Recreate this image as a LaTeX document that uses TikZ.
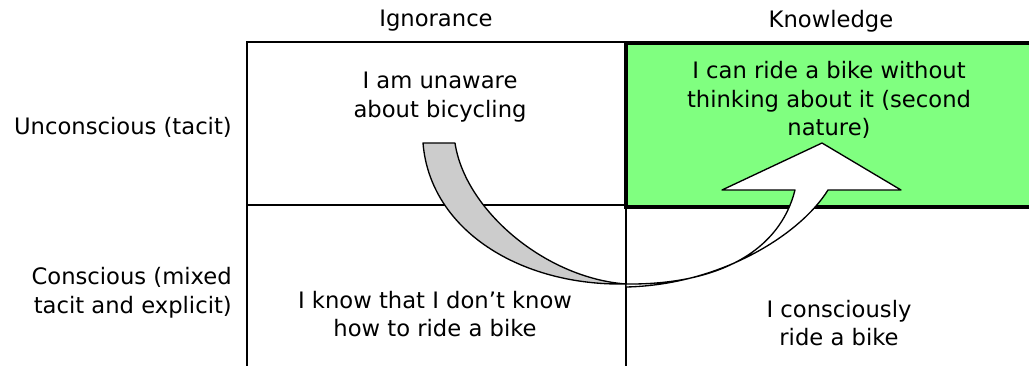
\documentclass[tikz,border=0pt]{standalone}
\usepackage{fontspec}
\setmainfont{DejaVu Sans}
\usetikzlibrary{positioning}
\definecolor{mastered}{RGB}{128,255,128}
\definecolor{backpart}{RGB}{204,204,204}

\begin{document}
\begin{tikzpicture}[x=0.75pt, y=-0.75pt, font=\fontsize{17}{21.5}\selectfont,
        grid/.style={line width=1.8pt},
        cell/.style={align=center, inner sep=0pt},
        rowlabel/.style={align=right, inner sep=0pt, anchor=east},
        curvearrow/.style={draw=black, line width=1pt, line join=round}
    ]
        \useasboundingbox (0,0) rectangle (1029,365);
        % quadrant lines
        \draw[grid] (247,366) -- (247,42) -- (626,42);
        \draw[grid] (247,205) -- (626,205);
        \draw[grid] (626,42) -- (626,366);
        \draw[fill=mastered, line width=3pt] (626,43) rectangle (1045,207);
        % headers
        \node[inner sep=0pt] (ign) at (436,21) {Ignorance};
        \node[inner sep=0pt] (know) at (831,21) {Knowledge};
        \node[rowlabel] (uncon) at (232,127) {Unconscious (tacit)};
        \node[rowlabel] (con) at (232,293) {Conscious (mixed\\tacit and explicit)};
        % quadrant texts
        \node[cell] (ui) at (440,97) {I am unaware\\about bicycling};
        \node[cell] (uk) at (829,100) {I can ride a bike without\\thinking about it (second\\nature)};
        \node[cell] (ci) at (435,314) {I know that I don't know\\how to ride a bike};
        \node[cell] (ck) at (839,323) {I consciously\\ride a bike};
        % curved arrow, back part
        \draw[curvearrow, fill=backpart] (423,143) -- (455,143)
            .. controls (465,210) and (545,278) .. (626,284)
            .. controls (520,286) and (430,230) .. (423,143) -- cycle;
        % curved arrow, front part with head
        \draw[curvearrow, fill=white] (626,284)
            .. controls (720,285) and (780,250) .. (795,190)
            -- (722,190) -- (822,143) -- (901,190) -- (828,190)
            .. controls (800,235) and (720,285) .. (626,287) -- cycle;
    \end{tikzpicture}
\end{document}
